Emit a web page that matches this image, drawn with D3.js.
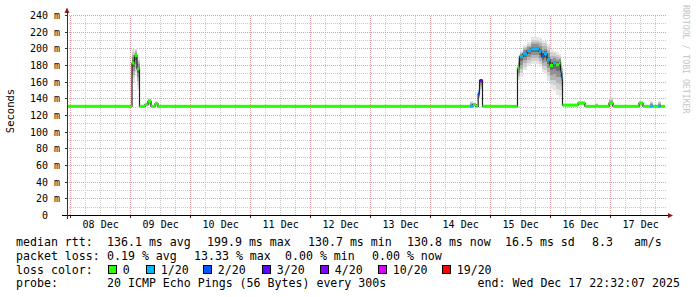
<!DOCTYPE html>
<html>
<head>
<meta charset="utf-8">
<script src="https://cdn.jsdelivr.net/npm/d3@7"></script>
<style>
  body { margin: 0; background: #fff; }
  svg { display: block; }
  text { font-family: "DejaVu Sans Mono", monospace; white-space: pre; }
</style>
</head>
<body>
<svg id="chart" width="697" height="297"></svg>
<script>
// samples; each value holds until the next sample time
var sampleTimes = [
    "2025-12-07 22:32", "2025-12-09 00:32", "2025-12-09 01:32", "2025-12-09 02:32",
    "2025-12-09 03:32", "2025-12-09 05:44", "2025-12-09 06:56", "2025-12-09 08:08",
    "2025-12-09 09:44", "2025-12-09 10:56", "2025-12-14 15:44", "2025-12-14 16:56",
    "2025-12-14 18:08", "2025-12-14 19:00", "2025-12-14 19:32", "2025-12-14 20:44",
    "2025-12-15 10:44", "2025-12-15 11:32", "2025-12-15 12:56", "2025-12-15 14:32",
    "2025-12-15 16:08", "2025-12-15 19:20", "2025-12-15 20:20", "2025-12-15 21:20",
    "2025-12-15 22:32", "2025-12-15 23:44", "2025-12-16 00:56", "2025-12-16 02:08",
    "2025-12-16 03:20", "2025-12-16 03:56", "2025-12-16 04:20", "2025-12-16 04:44",
    "2025-12-16 10:56", "2025-12-16 13:44", "2025-12-16 17:44", "2025-12-16 18:56",
    "2025-12-16 23:20", "2025-12-17 00:56", "2025-12-17 11:20", "2025-12-17 12:56",
    "2025-12-17 15:44", "2025-12-17 16:56", "2025-12-17 18:56", "2025-12-17 19:56"
];
var dataEnd = "2025-12-17 21:44";

var medianRtt = [
    131, 183, 192, 176, 131, 133, 137, 131, 134, 131, 131, 133,
    131, 146, 162, 131, 177, 191, 194, 198, 200, 197, 191, 194,
    187, 180, 183, 181, 183, 172, 165, 132.5, 135, 131, 131, 131,
    135, 131, 135, 131, 131, 131, 131, 131
];
var lossCount = [
    0, 0, 0, 0, 0, 0, 0, 0, 0, 0, 1, 0,
    0, 2, 3, 0, 0, 1, 1, 1, 1, 1, 2, 1,
    1, 0, 1, 0, 0, 1, 1, 0, 0, 0, 0, 0,
    0, 0, 0, 0, 1, 0, 1, 0
];
var smokeLow = [
    130.5, 160, 168, 152, 130.5, 131, 132, 130.5, 131, 130.5, 130, 131,
    130.5, 140, 150, 130.5, 163, 166, 175, 180, 182, 178, 172, 170,
    162, 152, 150, 145, 142, 145, 150, 131.5, 132, 130.5, 130.5, 130.5,
    131, 130.5, 131, 130.5, 130.5, 130.5, 130.5, 130.5
];
var smokeHigh = [
    131.5, 200, 201, 190, 132, 136, 141, 132, 137, 131.5, 137, 136,
    132, 152, 164, 131.5, 192, 198, 205, 208, 214, 213, 211, 210,
    206, 200, 198, 196, 194, 185, 180, 133.5, 137, 131.5, 135, 131.5,
    142, 131.5, 137, 131.5, 137, 131.5, 138, 131.5
];

var lossSteps = [0, 1, 2, 3, 4, 10, 19];
var lossLabels = ["0", "1/20", "2/20", "3/20", "4/20", "10/20", "19/20"];
var lossColors = ["#26ff00", "#00b8ff", "#0059ff", "#5e00ff", "#7e00ff", "#dd00ff", "#ff0000"];

var yTickValues = [0, 20, 40, 60, 80, 100, 120, 140, 160, 180, 200, 220, 240];

var medianStats = ["136.1 ms avg", "199.9 ms max", "130.7 ms min", "130.8 ms now", "16.5 ms sd", "8.3   am/s"];
var lossStats = ["0.19 % avg", "13.33 % max", "0.00 % min", "0.00 % now"];
var probeText = "20 ICMP Echo Pings (56 Bytes) every 300s";
var endText = "end: Wed Dec 17 22:32:07 2025";

var parseTime = d3.timeParse("%Y-%m-%d %H:%M");
var svg = d3.select('#chart');

var LEFT = 67, RIGHT = 667, BOTTOM = 215.5, TOP = 15.5;
var SMOKE_FRACTIONS = [1, 0.8, 0.6, 0.4, 0.2];
var SMOKE_SHADES = ["#e6e6e6", "#d0d0d0", "#b4b4b4", "#929292", "#6c6c6c"];

var x = d3.scaleTime()
    .domain([parseTime("2025-12-07 22:32"), parseTime("2025-12-17 22:32")])
    .range([LEFT, RIGHT]);
var y = d3.scaleLinear().domain([0, 240]).range([BOTTOM, TOP]);

var endDate = parseTime(dataEnd);
var samples = sampleTimes.map(function(t, i) {
    return {
        t0: parseTime(t),
        t1: i < sampleTimes.length - 1 ? parseTime(sampleTimes[i + 1]) : endDate,
        med: medianRtt[i],
        loss: lossCount[i],
        lo: smokeLow[i],
        hi: smokeHigh[i]
    };
});

function lossColor(n) {
    for (var i = 0; i < lossSteps.length; i++) {
        if (n <= lossSteps[i]) return lossColors[i];
    }
    return lossColors[lossColors.length - 1];
}

// grid
var grid = svg.append('g').attr('shape-rendering', 'crispEdges');

grid.selectAll('.hminor')
    .data(d3.range(10, 240, 20))
    .enter().append('line')
    .attr('x1', LEFT).attr('x2', RIGHT)
    .attr('y1', function(d) { return y(d); }).attr('y2', function(d) { return y(d); })
    .attr('stroke', '#c8c8c8').attr('stroke-dasharray', '1,1');

grid.selectAll('.vminor')
    .data(d3.timeHour.every(6).range(x.domain()[0], x.domain()[1]).filter(function(d) { return d.getHours() !== 0; }))
    .enter().append('line')
    .attr('x1', function(d) { return x(d); }).attr('x2', function(d) { return x(d); })
    .attr('y1', TOP).attr('y2', BOTTOM)
    .attr('stroke', '#c8c8c8').attr('stroke-dasharray', '1,1');

grid.selectAll('.hmajor')
    .data(yTickValues.slice(1))
    .enter().append('line')
    .attr('x1', LEFT).attr('x2', RIGHT)
    .attr('y1', function(d) { return y(d); }).attr('y2', function(d) { return y(d); })
    .attr('stroke', '#e2a0a0').attr('stroke-dasharray', '1,1');

var days = d3.timeDay.range(x.domain()[0], x.domain()[1]);

grid.selectAll('.vmajor')
    .data(days)
    .enter().append('line')
    .attr('x1', function(d) { return x(d); }).attr('x2', function(d) { return x(d); })
    .attr('y1', TOP).attr('y2', BOTTOM)
    .attr('stroke', '#e2a0a0').attr('stroke-dasharray', '1,1');

// smoke
var smoke = svg.append('g').attr('shape-rendering', 'crispEdges');
SMOKE_FRACTIONS.forEach(function(f, k) {
    smoke.selectAll(null)
        .data(samples)
        .enter().append('rect')
        .attr('x', function(d) { return x(d.t0); })
        .attr('width', function(d) { return x(d.t1) - x(d.t0); })
        .attr('y', function(d) { return y(d.med + f * (d.hi - d.med)); })
        .attr('height', function(d) {
            return y(d.med - f * (d.med - d.lo)) - y(d.med + f * (d.hi - d.med));
        })
        .attr('fill', SMOKE_SHADES[k]);
});

// median line
var linePoints = samples.map(function(d) { return [d.t0, d.med]; });
linePoints.push([endDate, samples[samples.length - 1].med]);

svg.append('path')
    .datum(linePoints)
    .attr('fill', 'none')
    .attr('stroke', '#202020')
    .attr('stroke-width', 1.2)
    .attr('d', d3.line()
        .curve(d3.curveStepAfter)
        .x(function(d) { return x(d[0]); })
        .y(function(d) { return y(d[1]); }));

svg.append('g')
    .selectAll('rect')
    .data(samples)
    .enter().append('rect')
    .attr('x', function(d) { return x(d.t0); })
    .attr('width', function(d) { return x(d.t1) - x(d.t0); })
    .attr('y', function(d) { return y(d.med) - 1.5; })
    .attr('height', 3)
    .attr('fill', function(d) { return lossColor(d.loss); });

// axes
var axes = svg.append('g').attr('shape-rendering', 'crispEdges');
axes.append('line')
    .attr('x1', LEFT - 5).attr('x2', RIGHT + 3)
    .attr('y1', BOTTOM).attr('y2', BOTTOM)
    .attr('stroke', '#000');
axes.append('line')
    .attr('x1', LEFT).attr('x2', LEFT)
    .attr('y1', BOTTOM + 3).attr('y2', TOP - 6)
    .attr('stroke', '#333');
axes.selectAll('.ytick')
    .data(yTickValues.slice(1))
    .enter().append('line')
    .attr('x1', LEFT - 2).attr('x2', LEFT)
    .attr('y1', function(d) { return y(d); }).attr('y2', function(d) { return y(d); })
    .attr('stroke', '#333');
axes.selectAll('.xtick')
    .data(days)
    .enter().append('line')
    .attr('x1', function(d) { return x(d); }).attr('x2', function(d) { return x(d); })
    .attr('y1', BOTTOM).attr('y2', BOTTOM + 2)
    .attr('stroke', '#333');

svg.append('path')
    .attr('d', 'M' + (LEFT - 2.5) + ',' + (TOP - 2.5) + 'L' + LEFT + ',' + (TOP - 8) + 'L' + (LEFT + 2.5) + ',' + (TOP - 2.5) + 'Z')
    .attr('fill', '#8b1a1a');
svg.append('path')
    .attr('d', 'M' + (RIGHT + 1) + ',' + (BOTTOM - 2.5) + 'L' + (RIGHT + 6) + ',' + BOTTOM + 'L' + (RIGHT + 1) + ',' + (BOTTOM + 2.5) + 'Z')
    .attr('fill', '#8b1a1a');

// tick labels
svg.selectAll('.ylab')
    .data(yTickValues)
    .enter().append('text')
    .attr('x', 60)
    .attr('y', function(d) { return y(d) + 3.6; })
    .attr('text-anchor', 'end')
    .attr('font-size', 10)
    .attr('fill', '#000')
    .text(function(d) { return d === 0 ? '0  ' : d + ' m'; });

var dayFormat = d3.timeFormat('%d %b');
svg.selectAll('.xlab')
    .data(days.filter(function(d) { return x(d3.timeHour.offset(d, 12)) < RIGHT; }))
    .enter().append('text')
    .attr('x', function(d) { return x(d3.timeHour.offset(d, 12)); })
    .attr('y', 228.3)
    .attr('text-anchor', 'middle')
    .attr('font-size', 10)
    .text(function(d) { return dayFormat(d); });

svg.append('text')
    .attr('transform', 'translate(14,111) rotate(-90)')
    .attr('text-anchor', 'middle')
    .attr('font-size', 10.5)
    .text('Seconds');

svg.append('text')
    .attr('transform', 'translate(683,5) rotate(90)')
    .attr('font-size', 8.2)
    .attr('fill', '#c4c4c4')
    .text('RRDTOOL / TOBI OETIKER');

// legend
var LEG_FONT = 11.6;
var ROW = [246, 259.8, 273.6, 287.4];
var MEDIAN_X = [107, 207, 308, 407, 505, 592];
var LOSS_X = [107, 194, 285, 372];
var BOX_X = [108, 146, 203, 262, 320, 378, 442];

function legendText(str, px, row, anchor) {
    svg.append('text')
        .attr('x', px).attr('y', ROW[row])
        .attr('font-size', LEG_FONT)
        .attr('text-anchor', anchor || 'start')
        .text(str);
}

legendText('median rtt:', 16, 0);
medianStats.forEach(function(s, i) { legendText(s, MEDIAN_X[i], 0); });
legendText('packet loss:', 16, 1);
lossStats.forEach(function(s, i) { legendText(s, LOSS_X[i], 1); });
legendText('loss color:', 16, 2);
lossLabels.forEach(function(s, i) {
    svg.append('rect')
        .attr('x', BOX_X[i] + 0.5).attr('y', 265.5)
        .attr('width', 8).attr('height', 8)
        .attr('fill', lossColors[i])
        .attr('stroke', '#000');
    legendText(s, BOX_X[i] + 14.7, 2);
});
legendText('probe:', 16, 3);
legendText(probeText, 107, 3);
legendText(endText, 680, 3, 'end');
</script>
</body>
</html>
